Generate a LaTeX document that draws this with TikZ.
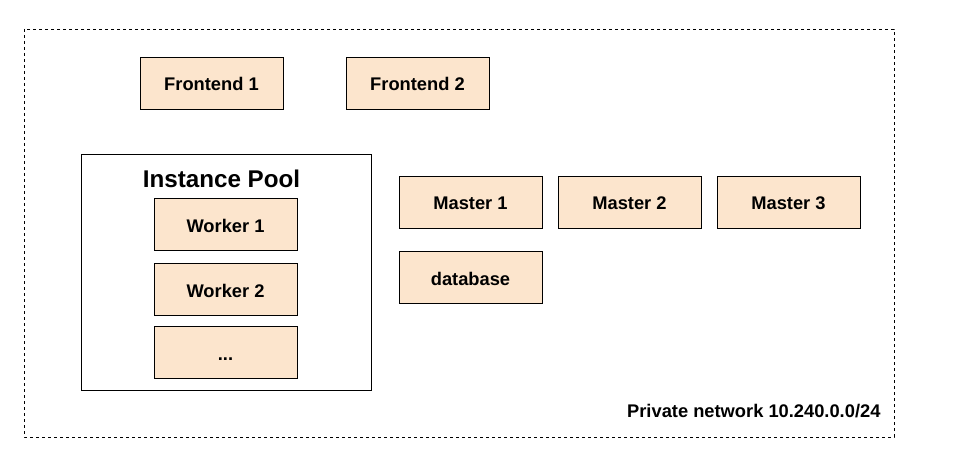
\documentclass[tikz,border=0pt]{standalone}
\usepackage{fontspec}
\setmainfont{Liberation Sans}
\definecolor{boxfill}{HTML}{FCE5CD}
\begin{document}
\begin{tikzpicture}[x=1pt,y=1pt,
  vm/.style={draw=black,fill=boxfill,line width=0.8pt,minimum width=143pt,minimum height=52pt,inner sep=0pt,text height=16pt,text depth=0pt,font=\fontsize{18.3}{21}\selectfont\bfseries},
  pool/.style={draw=black,line width=0.8pt,minimum width=290pt,minimum height=236pt,inner sep=0pt}]
\useasboundingbox (0,0) rectangle (959,-468);
\draw [black,dashed,line width=0.8pt] (24,-29) rectangle (894,-437);
\node [pool] (pool) at (226,-272) {};
\node [font=\fontsize{24.2}{27}\selectfont\bfseries] (pooltitle) at (221.5,-179) {Instance Pool};
\node [vm] (fe1) at (211.5,-83) {Frontend 1};
\node [vm] (fe2) at (417.5,-83) {Frontend 2};
\node [vm] (w1) at (225.5,-224) {Worker 1};
\node [vm] (w2) at (225.5,-289) {Worker 2};
\node [vm] (w3) at (225.5,-352.5) {...};
\node [vm] (m1) at (470.5,-202) {Master 1};
\node [vm] (m2) at (629.5,-202) {Master 2};
\node [vm] (m3) at (788.5,-202) {Master 3};
\node [vm] (db) at (470.5,-277.5) {database};
\node [anchor=east,font=\fontsize{18.3}{21}\selectfont\bfseries] (net) at (884,-411) {Private network 10.240.0.0/24};
\end{tikzpicture}
\end{document}
